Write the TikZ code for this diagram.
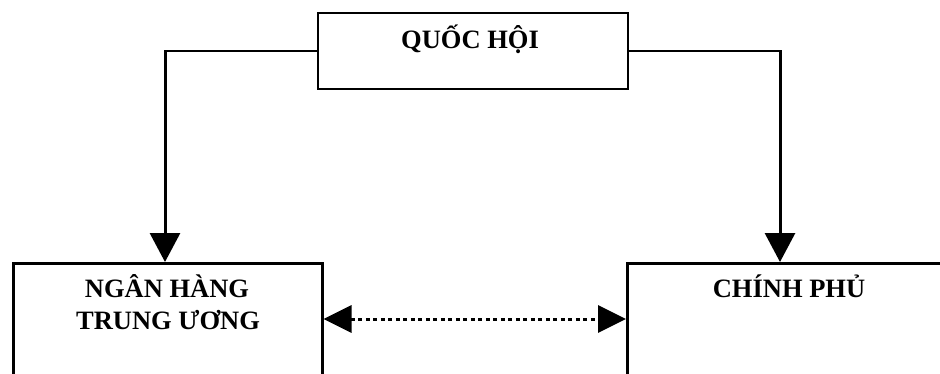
\documentclass[tikz,border=0pt]{standalone}
\usepackage{fontspec}
\setmainfont{Liberation Serif}
\usetikzlibrary{arrows.meta}
\begin{document}
\begin{tikzpicture}[x=1pt,y=-1pt,
  box/.style={draw=black,line width=2.5pt,rectangle,inner sep=0pt},
  lbl/.style={font=\bfseries\fontsize{26.5}{33}\selectfont,anchor=base,inner sep=0pt},
  thinline/.style={line width=1.6pt},
  thickline/.style={line width=3pt},
  tip/.style={-{Triangle[width=30pt,length=29pt]}},
  dots/.style={line width=3pt,dash pattern=on 4pt off 3.5pt}]
\clip (0,0) rectangle (940,373);
\useasboundingbox (0,0) rectangle (940,373);
\node[box,minimum width=310pt,minimum height=76pt] (qh) at (473,51) {};
\node[box,minimum width=309pt,minimum height=160pt,anchor=north west] (nh) at (12,262) {};
\node[box,minimum width=340pt,minimum height=160pt,anchor=north west] (cp) at (626,262) {};
\node[lbl] (tqh) at (470,48) {QUỐC HỘI};
\node[lbl] (tnh1) at (167,297) {NGÂN HÀNG};
\node[lbl] (tnh2) at (168,329) {TRUNG ƯƠNG};
\node[lbl] (tcp) at (789,297) {CHÍNH PHỦ};
\coordinate (cl) at (165,51);
\coordinate (cr) at (780,51);
\draw[thinline] (qh.west) -- (cl);
\draw[thinline] (qh.east) -- (cr);
\draw[thickline,tip] ([yshift=0.8pt]cl) -- (cl |- nh.north);
\draw[thickline,tip] ([yshift=0.8pt]cr) -- (cr |- cp.north);
\draw[dots,{Triangle[width=27pt,length=28pt]}-{Triangle[width=27pt,length=28pt]}] ([yshift=-57pt]nh.north east) -- ([yshift=-57pt]cp.north west);
\end{tikzpicture}
\end{document}
